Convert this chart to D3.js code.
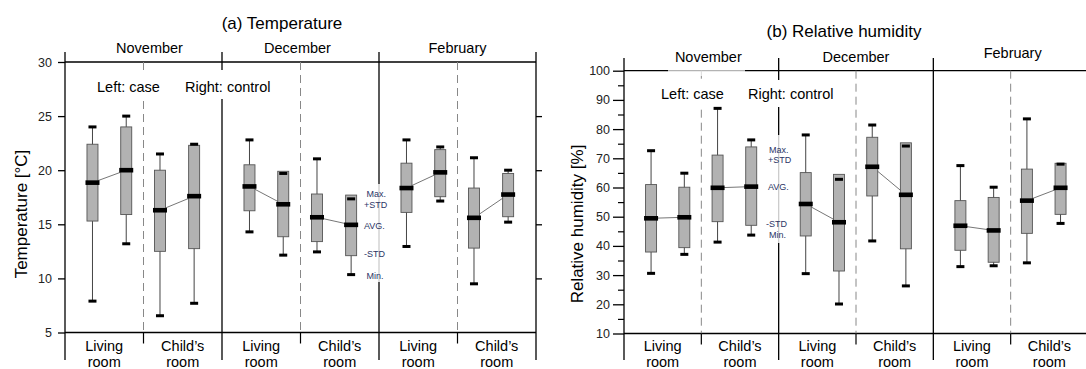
<!DOCTYPE html>
<html>
<head>
<meta charset="utf-8">
<script src="https://cdn.jsdelivr.net/npm/d3@7"></script>
<style>
  body { margin: 0; background: #fff; }
  svg { font-family: "Liberation Sans", Arial, sans-serif; }
</style>
</head>
<body>
<svg width="1086" height="369"></svg>
<script>
// categories
var months = ["November", "December", "February"];
var rooms = [["Living", "room"], ["Child\u2019s", "room"]];
var groups = ["case", "control"];
var legendLabels = ["Max.", "+STD", "AVG.", "-STD", "Min."];

// order: month -> room -> (case, control)
var tempMax   = [24.0, 25.0, 21.5, 22.4, 22.8, 19.7, 21.05, 17.35, 22.8, 22.15, 21.15, 20.0];
var tempHi    = [22.4, 24.0, 20.0, 22.3, 20.5, 19.9, 17.8, 17.7, 20.65, 21.9, 18.35, 19.7];
var tempAvg   = [18.85, 20.0, 16.3, 17.6, 18.5, 16.85, 15.65, 14.95, 18.35, 19.8, 15.6, 17.75];
var tempLo    = [15.3, 15.9, 12.5, 12.75, 16.25, 13.85, 13.4, 12.1, 16.1, 17.55, 12.8, 15.7];
var tempMin   = [7.9, 13.2, 6.55, 7.7, 14.3, 12.15, 12.45, 10.35, 12.95, 17.15, 9.5, 15.2];
var tempTicks = [5, 10, 15, 20, 25, 30];

var humMax   = [72.6, 64.9, 87.1, 76.3, 78.0, 62.8, 81.4, 74.2, 67.5, 60.1, 83.5, 68.0];
var humHi    = [61.0, 60.1, 71.1, 73.9, 65.1, 64.5, 77.2, 75.3, 55.5, 56.6, 66.3, 68.3];
var humAvg   = [49.45, 49.8, 59.9, 60.3, 54.35, 48.1, 67.1, 57.5, 46.9, 45.3, 55.5, 59.9];
var humLo    = [37.9, 39.4, 48.3, 47.05, 43.4, 31.4, 57.1, 39.0, 38.5, 34.4, 44.3, 50.8];
var humMin   = [30.6, 37.1, 41.3, 43.7, 30.5, 20.1, 41.7, 26.3, 32.9, 33.2, 34.2, 47.7];
var humTicks = [10, 20, 30, 40, 50, 60, 70, 80, 90, 100];
var humMinor = [15, 25, 35, 45, 55, 65, 75, 85, 95];

// where the two boxes sit inside a room section (fraction of section width)
var boxPos = [[0.35, 0.78], [0.21, 0.645]];

var svg = d3.select("svg");

function drawPanel(o) {
  var x = d3.scaleLinear().domain([0, 6]).range([o.left, o.right]);
  var y = d3.scaleLinear().domain(o.domain).range([o.bottom, o.top]);
  var g = svg.append("g");

  var rows = o.avg.map(function(a, i) {
    return {i: i, month: Math.floor(i / 4), room: Math.floor(i / 2) % 2, grp: i % 2,
            max: o.max[i], hi: o.hi[i], avg: a, lo: o.lo[i], min: o.min[i]};
  });
  var cx = function(d) { return x(d.month * 2 + d.room + boxPos[d.room][d.grp]); };

  // frame
  g.append("line").attr("x1", x(0)).attr("x2", x(6)).attr("y1", y(o.domain[1])).attr("y2", y(o.domain[1])).attr("stroke", "#000").attr("stroke-width", 1.3);
  g.append("line").attr("x1", x(0)).attr("x2", x(6)).attr("y1", y(o.domain[0])).attr("y2", y(o.domain[0])).attr("stroke", "#000").attr("stroke-width", 1.3);
  [0, 2, 4, 6].forEach(function(s) {
    g.append("line").attr("x1", x(s)).attr("x2", x(s)).attr("y1", o.frameTop).attr("y2", 360).attr("stroke", "#000").attr("stroke-width", 1.3);
  });
  [1, 3, 5].forEach(function(s) {
    g.append("line").attr("x1", x(s)).attr("x2", x(s)).attr("y1", y(o.domain[1])).attr("y2", y(o.domain[0]))
      .attr("stroke", "#888").attr("stroke-width", 1).attr("stroke-dasharray", "8,5");
    g.append("line").attr("x1", x(s)).attr("x2", x(s)).attr("y1", y(o.domain[0])).attr("y2", y(o.domain[0]) + 11)
      .attr("stroke", "#000").attr("stroke-width", 1.2);
  });

  // axes
  var ax = g.append("g").attr("transform", "translate(" + x(0) + ",0)")
    .call(d3.axisLeft(y).tickValues(o.ticks).tickSize(o.tickSize).tickPadding(o.tickPad));
  ax.select(".domain").remove();
  ax.selectAll("line").attr("stroke-width", 1.3);
  ax.selectAll("text").attr("font-size", 12.5).attr("fill", "#222").attr("font-family", "Liberation Sans, Arial, sans-serif");
  if (o.minor) {
    var mx = g.append("g").attr("transform", "translate(" + x(0) + ",0)")
      .call(d3.axisLeft(y).tickValues(o.minor).tickSize(6).tickFormat(""));
    mx.select(".domain").remove();
    mx.selectAll("line").attr("stroke-width", 1.2);
  }
  if (o.rightTicks) {
    var rx = g.append("g").attr("transform", "translate(" + x(6) + ",0)")
      .call(d3.axisRight(y).tickValues(o.rightTicks).tickSize(6).tickFormat(""));
    rx.select(".domain").remove();
    rx.selectAll("line").attr("stroke-width", 1.3);
  }

  // white backgrounds behind inner texts
  o.whiteBoxes.forEach(function(b) {
    g.append("rect").attr("x", b[0]).attr("y", b[1]).attr("width", b[2]).attr("height", b[3])
      .attr("fill", "#fff").attr("fill-opacity", b[4]);
  });

  // titles and labels
  g.append("text").attr("x", o.titleX).attr("y", o.titleY).attr("text-anchor", "middle")
    .attr("font-size", 17).text(o.title);
  g.append("text").attr("transform", "translate(" + o.yTitleX + "," + o.yTitleY + ") rotate(-90)")
    .attr("text-anchor", "middle").attr("font-size", 17).text(o.yTitle);
  months.forEach(function(m, k) {
    g.append("text").attr("x", x(k * 2 + 1) + o.monthDx[k]).attr("y", o.monthY[k])
      .attr("text-anchor", "middle").attr("font-size", 14.5).text(m);
  });
  d3.range(6).forEach(function(s) {
    var lab = rooms[s % 2];
    var t = g.append("text").attr("text-anchor", "middle").attr("font-size", 14.5);
    t.append("tspan").attr("x", x(s + 0.5)).attr("y", 351).text(lab[0]);
    t.append("tspan").attr("x", x(s + 0.5)).attr("y", 367).text(lab[1]);
  });
  g.append("text").attr("x", o.leftCase[0]).attr("y", o.leftCase[1]).attr("font-size", 14.5).text("Left: " + groups[0]);
  g.append("text").attr("x", o.rightCtrl[0]).attr("y", o.rightCtrl[1]).attr("font-size", 14.5).text("Right: " + groups[1]);
  legendLabels.forEach(function(l, k) {
    g.append("text").attr("x", o.legendX[k]).attr("y", o.legendY[k]).attr("font-size", 9)
      .attr("fill", "#2b3566").text(l);
  });

  // lines joining case and control averages
  d3.range(6).forEach(function(s) {
    var a = rows[s * 2], b = rows[s * 2 + 1];
    g.append("line").attr("x1", cx(a)).attr("x2", cx(b)).attr("y1", y(a.avg)).attr("y2", y(b.avg))
      .attr("stroke", "#666").attr("stroke-width", 0.9);
  });

  var bw = 11;
  g.selectAll(".whisk").data(rows).enter().append("line")
    .attr("x1", cx).attr("x2", cx).attr("y1", function(d) { return y(d.max); }).attr("y2", function(d) { return y(d.min); })
    .attr("stroke", "#444").attr("stroke-width", 1);
  g.selectAll(".box").data(rows).enter().append("rect")
    .attr("x", function(d) { return cx(d) - bw / 2; })
    .attr("y", function(d) { return y(d.hi); })
    .attr("width", bw)
    .attr("height", function(d) { return y(d.lo) - y(d.hi); })
    .attr("fill", "#b2b2b2").attr("stroke", "#555").attr("stroke-width", 0.9);
  ["max", "min"].forEach(function(k) {
    g.selectAll(".cap" + k).data(rows).enter().append("rect")
      .attr("x", function(d) { return cx(d) - 4; })
      .attr("y", function(d) { return y(d[k]) - 1.5; })
      .attr("width", 8).attr("height", 3).attr("fill", "#000");
  });
  g.selectAll(".avg").data(rows).enter().append("rect")
    .attr("x", function(d) { return cx(d) - 7; })
    .attr("y", function(d) { return y(d.avg) - 2.3; })
    .attr("width", 14).attr("height", 4.6).attr("fill", "#000");
}

drawPanel({
  left: 65, right: 536, top: 62, bottom: 332.5, frameTop: 52,
  domain: [5, 30], ticks: tempTicks, tickSize: 7, tickPad: 6, rightTicks: [10, 15, 20, 25],
  max: tempMax, hi: tempHi, avg: tempAvg, lo: tempLo, min: tempMin,
  title: "(a) Temperature", titleX: 282, titleY: 29,
  yTitle: "Temperature [\u00B0C]", yTitleX: 27, yTitleY: 214,
  monthDx: [6, -3, 0], monthY: [53, 53, 53],
  leftCase: [97, 92], rightCtrl: [185, 92],
  legendX: [366.5, 364, 364, 364, 366.5], legendY: [196.5, 207.5, 228.5, 256.5, 278.5],
  whiteBoxes: [[92, 70, 190, 29, 1], [362, 184, 34, 98, 0.8]]
});

drawPanel({
  left: 624, right: 1088, top: 70.7, bottom: 333.5, frameTop: 58,
  domain: [10, 100], ticks: humTicks, tickSize: 11, tickPad: 3, minor: humMinor,
  max: humMax, hi: humHi, avg: humAvg, lo: humLo, min: humMin,
  title: "(b) Relative humidity", titleX: 844, titleY: 37,
  yTitle: "Relative humidity [%]", yTitleX: 583, yTitleY: 224,
  monthDx: [7, 0, 2], monthY: [62, 62, 58],
  leftCase: [661, 99], rightCtrl: [748, 99],
  legendX: [769, 768, 768, 766, 769], legendY: [152.5, 162.5, 190, 226.5, 237.5],
  whiteBoxes: [[655, 80, 190, 27, 1], [766, 135, 26, 108, 0.8], [668, 64, 77, 12, 0.7]]
});
</script>
</body>
</html>
